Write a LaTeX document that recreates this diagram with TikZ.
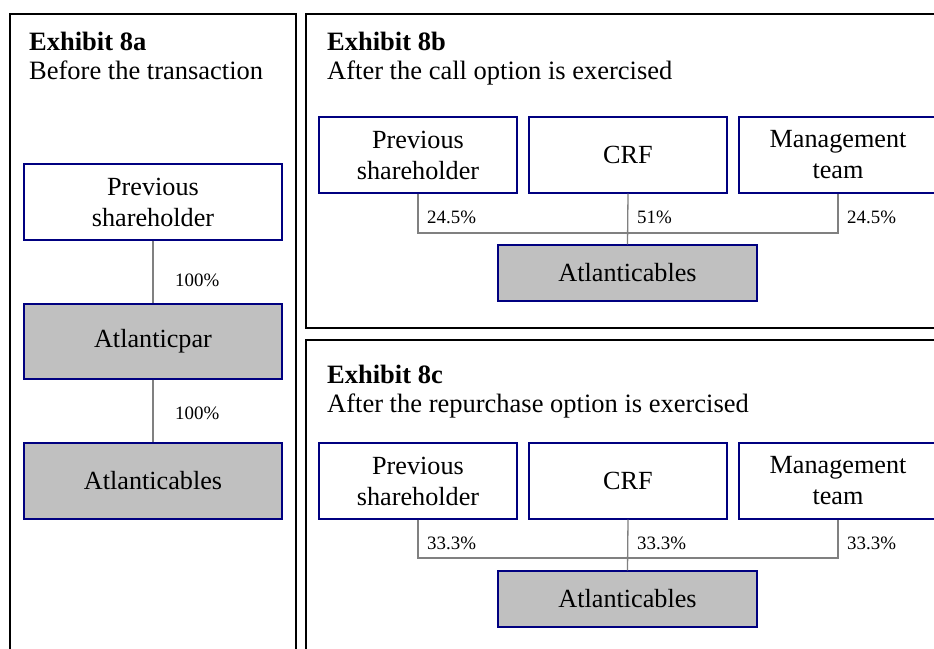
\documentclass[tikz,border=0pt]{standalone}
\usepackage{fontspec}
\setmainfont{Liberation Serif}
\definecolor{boxline}{HTML}{000080}
\definecolor{boxfill}{HTML}{C0C0C0}
\definecolor{connline}{HTML}{808080}
\tikzset{
  panel/.style={draw=black, line width=1.6pt},
  obox/.style={draw=boxline, line width=1.3pt, fill=white, align=center, inner sep=0pt,
    font=\fontsize{26.2}{31}\selectfont},
  wbox/.style={obox, minimum width=258pt, minimum height=76pt},
  sbox/.style={obox, minimum width=198pt, minimum height=76pt},
  gbox/.style={obox, fill=boxfill, minimum width=258pt, minimum height=75pt},
  gsbox/.style={obox, fill=boxfill, minimum width=259pt, minimum height=56pt},
  conn/.style={draw=connline, line width=1.3pt},
  pct/.style={inner sep=0pt, font=\fontsize{18.9}{22}\selectfont},
  ttl/.style={inner sep=0pt, anchor=base west, font=\fontsize{26.5}{30}\selectfont\bfseries},
  sub/.style={inner sep=0pt, anchor=base west, font=\fontsize{26.5}{30}\selectfont},
}
\begin{document}
\begin{tikzpicture}[x=1pt, y=-1pt]
\useasboundingbox (0,0) rectangle (934,648);
\clip (0,0) rectangle (934,648);
% panels
\draw[panel] (10,14) rectangle (296,670);
\draw[panel] (306,14) rectangle (950,328);
\draw[panel] (306,340) rectangle (950,670);
% titles
\node[ttl] (t8a) at (29,50) {Exhibit 8a};
\node[sub] (s8a) at (29,79) {Before the transaction};
\node[ttl] (t8b) at (327,50) {Exhibit 8b};
\node[sub] (s8b) at (327,79) {After the call option is exercised};
\node[ttl] (t8c) at (327,383) {Exhibit 8c};
\node[sub] (s8c) at (327,412) {After the repurchase option is exercised};
% Exhibit 8a
\node[wbox] (pa) at (153,202) {Previous\\shareholder};
\node[gbox] (apar) at (153,341.5) {Atlanticpar};
\node[gbox, minimum height=76pt] (aa) at (153,481) {Atlanticables};
\draw[conn] (pa.south) -- (apar.north);
\draw[conn] (apar.south) -- (aa.north);
\node[pct, anchor=west] (la1) at (175,280) {100\%};
\node[pct, anchor=west] (la2) at (175,413) {100\%};
% Exhibit 8b
\node[sbox] (pb) at (418,155) {Previous\\shareholder};
\node[sbox] (cb) at (628,155) {CRF};
\node[sbox] (mb) at (838,155) {Management\\team};
\node[gsbox] (ab) at (627.5,273) {Atlanticables};
\coordinate (hb) at (628,233);
\draw[conn] (pb.south) |- (hb) -| (mb.south);
\draw[conn] (cb.south) -- (ab.north);
\node[pct, anchor=west] (lb1) at (427,217) {24.5\%};
\node[pct, anchor=west] (lb2) at (637,217) {51\%};
\node[pct, anchor=west] (lb3) at (847,217) {24.5\%};
% Exhibit 8c
\node[sbox] (pc) at (418,481) {Previous\\shareholder};
\node[sbox] (cc) at (628,481) {CRF};
\node[sbox] (mc) at (838,481) {Management\\team};
\node[gsbox] (ac) at (627.5,599) {Atlanticables};
\coordinate (hc) at (628,558);
\draw[conn] (pc.south) |- (hc) -| (mc.south);
\draw[conn] (cc.south) -- (ac.north);
\node[pct, anchor=west] (lc1) at (427,543) {33.3\%};
\node[pct, anchor=west] (lc2) at (637,543) {33.3\%};
\node[pct, anchor=west] (lc3) at (847,543) {33.3\%};
\end{tikzpicture}
\end{document}
